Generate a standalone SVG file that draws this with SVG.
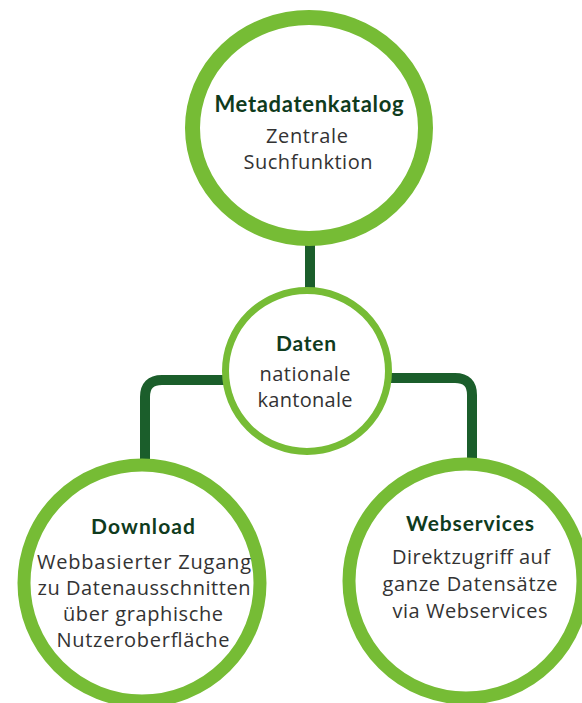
<svg xmlns="http://www.w3.org/2000/svg" width="582" height="703" viewBox="0 0 582 703">
  <style>
    .ring { fill: #ffffff; stroke: #76bc35; }
    .conn { fill: none; stroke: #1b5e2b; stroke-width: 10; stroke-linecap: butt; }
    .title { font-family: "Lato", "Liberation Sans", sans-serif; font-weight: 700; fill: #0f3b1d; text-anchor: middle; }
    .body { font-family: "Open Sans", "Liberation Sans", sans-serif; font-weight: 400; fill: #333333; text-anchor: middle; }
  </style>
  <rect x="0" y="0" width="582" height="703" fill="#ffffff"/>
  <g id="connectors">
    <path class="conn" d="M310,240 L310,292"/>
    <path class="conn" d="M228,380 L162,380 Q145,380 145,397 L145,475"/>
    <path class="conn" d="M388,378 L455,378 Q472,378 472,395 L472,475"/>
  </g>
  <g id="metadatenkatalog">
    <ellipse class="ring" cx="309" cy="128" rx="116.5" ry="110.5" stroke-width="15"/>
    <text class="title" x="309" y="112" font-size="22" textLength="189" lengthAdjust="spacing">Metadatenkatalog</text>
    <text class="body" x="307" y="143" font-size="20" textLength="82" lengthAdjust="spacing">Zentrale</text>
    <text class="body" x="308" y="169" font-size="20" textLength="129" lengthAdjust="spacing">Suchfunktion</text>
  </g>
  <g id="daten">
    <ellipse class="ring" cx="307" cy="371" rx="81.5" ry="80.5" stroke-width="7"/>
    <text class="title" x="306" y="351" font-size="21" textLength="60" lengthAdjust="spacing">Daten</text>
    <text class="body" x="305" y="381" font-size="20" textLength="91" lengthAdjust="spacing">nationale</text>
    <text class="body" x="305" y="407" font-size="20" textLength="95" lengthAdjust="spacing">kantonale</text>
  </g>
  <g id="download">
    <circle class="ring" cx="142" cy="583" r="118" stroke-width="13"/>
    <text class="title" x="143" y="534" font-size="21" textLength="104" lengthAdjust="spacing">Download</text>
    <text class="body" x="144" y="569" font-size="20" textLength="214" lengthAdjust="spacing">Webbasierter Zugang</text>
    <text class="body" x="144" y="595" font-size="20" textLength="213" lengthAdjust="spacing">zu Datenausschnitten</text>
    <text class="body" x="143" y="621" font-size="20" textLength="160" lengthAdjust="spacing">über graphische</text>
    <text class="body" x="143" y="647" font-size="20" textLength="173" lengthAdjust="spacing">Nutzeroberfläche</text>
  </g>
  <g id="webservices">
    <circle class="ring" cx="466" cy="581" r="117" stroke-width="13"/>
    <text class="title" x="470" y="531" font-size="21" textLength="128" lengthAdjust="spacing">Webservices</text>
    <text class="body" x="471" y="564" font-size="20" textLength="158" lengthAdjust="spacing">Direktzugriff auf</text>
    <text class="body" x="470" y="591" font-size="20" textLength="175" lengthAdjust="spacing">ganze Datensätze</text>
    <text class="body" x="470" y="618" font-size="20" textLength="155" lengthAdjust="spacing">via Webservices</text>
  </g>
</svg>
